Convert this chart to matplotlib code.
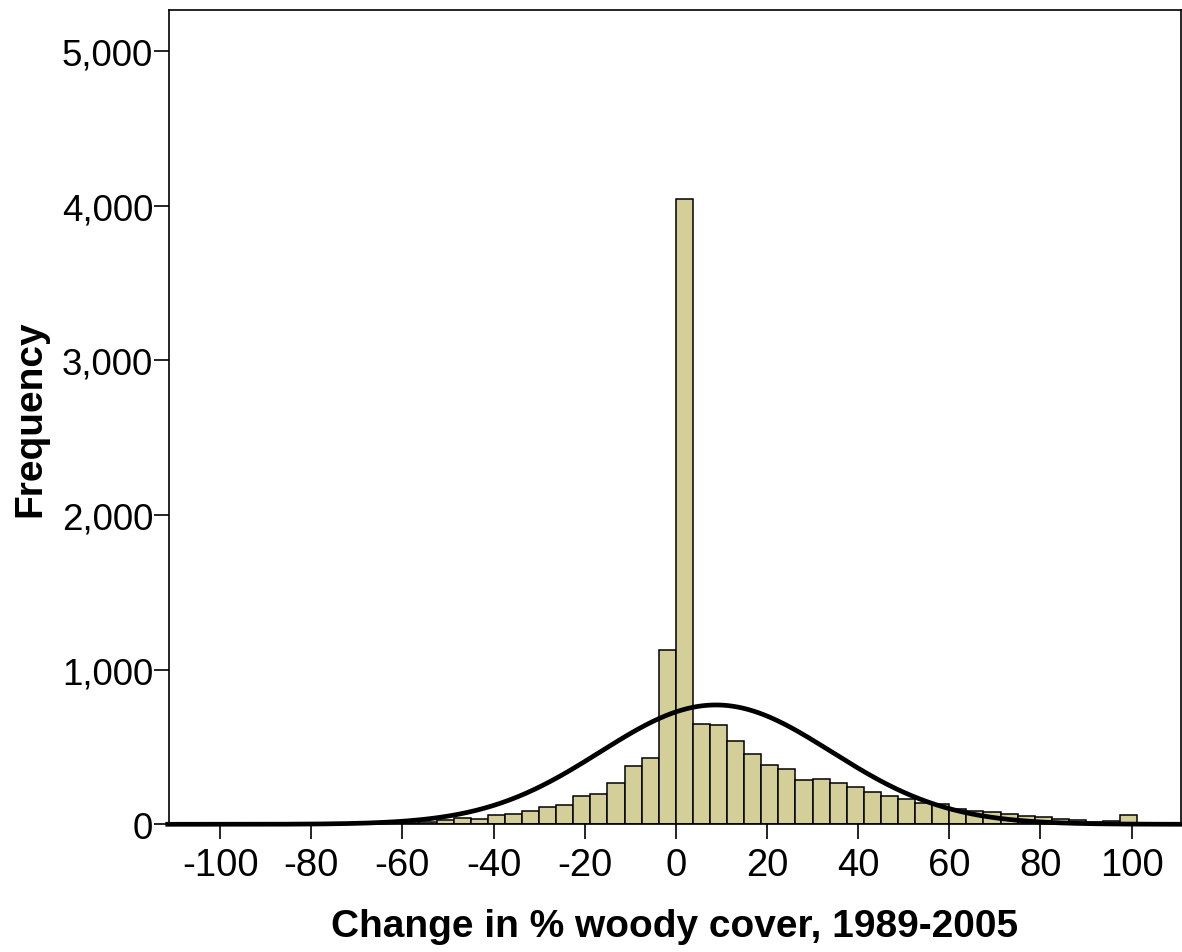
import numpy as np
import matplotlib
matplotlib.use("Agg")
import matplotlib.pyplot as plt

plt.rcParams['font.family'] = ['Liberation Sans', 'DejaVu Sans']

# histogram of change in % woody cover (bin width 3.75, first bin starts at -75)
bin_width = 3.75
first_bin = -20
counts_neg = [2, 3, 6, 10, 18, 30, 38, 34, 58, 65, 86, 110, 123, 183, 199,
              270, 375, 429, 1126]
counts_pos = [4040, 647, 643, 537, 455, 382, 356, 287, 293, 265, 239, 209,
              183, 163, 138, 129, 98, 88, 78, 66, 55, 48, 37, 28, 18, 24, 62]
counts = [0] + counts_neg + counts_pos

# fitted normal curve
curve_mean = 8.8
curve_sd = 25.4
curve_n = 13100

xticks = [-100, -80, -60, -40, -20, 0, 20, 40, 60, 80, 100]
yticks = [0, 1000, 2000, 3000, 4000, 5000]

fig = plt.figure(figsize=(11.82, 9.53), dpi=100)
ax = fig.add_axes([0.143, 0.134, 0.856, 0.854])

lefts = (np.arange(len(counts)) + first_bin) * bin_width
ax.bar(lefts, counts, width=bin_width, align='edge', color='#d4cf98',
       edgecolor='black', linewidth=1.1, zorder=2)

xs = np.linspace(-112, 112, 600)
ys = curve_n * bin_width / (curve_sd * np.sqrt(2 * np.pi)) * \
    np.exp(-0.5 * ((xs - curve_mean) / curve_sd) ** 2)
ax.plot(xs, ys, color='black', linewidth=3.4, zorder=3, clip_on=False,
        solid_capstyle='butt')

ax.set_xlim(-111.2, 110.8)
ax.set_ylim(0, 5262)
ax.set_xticks(xticks)
ax.set_xticklabels([str(v) for v in xticks])
ax.set_yticks(yticks)
ax.set_yticklabels([f"{v:,}" for v in yticks])

ax.tick_params(axis='both', direction='out', length=11, width=1.2,
               labelsize=26.5)
ax.tick_params(axis='x', pad=5, labelsize=27.5)
ax.tick_params(axis='y', pad=0.5)
for sp in ax.spines.values():
    sp.set_linewidth(1.2)

ax.set_xlabel("Change in % woody cover, 1989-2005", fontsize=28,
              fontweight='bold')
ax.set_ylabel("Frequency", fontsize=28, fontweight='bold')
ax.xaxis.set_label_coords(0.5, -0.125)
ax.xaxis.label.set_va('center')
ax.yaxis.set_label_coords(-0.137, 0.5)
ax.yaxis.label.set_va('center')

fig.savefig("out.png", dpi=100)
